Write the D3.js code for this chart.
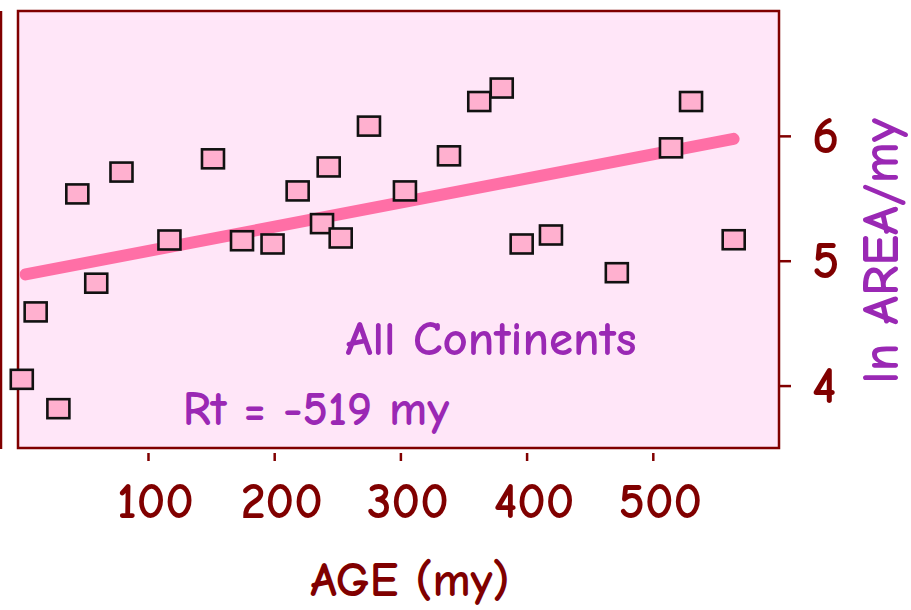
<!DOCTYPE html>
<html><head><meta charset="utf-8">
<script src="https://cdn.jsdelivr.net/npm/d3@7"></script>
<style>
html,body{margin:0;padding:0;background:#fff;}
svg{display:block;}
text{font-family:"Comic Sans MS","Comic Neue","Noto Sans",sans-serif;font-weight:700;}
</style></head>
<body>
<script>
// Data
const ages   = [0, 11, 29, 44, 59, 79, 117, 151.5, 174.5, 198.7, 218.6, 237.9, 243.2, 252.7, 275.1, 303.6, 338.5, 362.5, 380.3, 396.1, 419.3, 471.5, 514.4, 530.3, 564.1];
const lnArea = [4.05, 4.59, 3.815, 5.535, 4.82, 5.71, 5.166, 5.816, 5.16, 5.134, 5.559, 5.297, 5.751, 5.182, 6.078, 5.559, 5.84, 6.275, 6.383, 5.134, 5.206, 4.904, 5.904, 6.275, 5.168];
const fitAges = [3, 564];
const fitVals = [4.89, 5.976];
const xTicks = [100, 200, 300, 400, 500];
const yTicks = [4, 5, 6];
const xTitle = "AGE (my)";
const yTitle = "ln AREA/my";
const panelTitle = "All Continents";
const rtLabel = "Rt = -519 my";

const W = 911, H = 610;
const dark = "#800000", purple = "#9a28b4";
const svg = d3.select("body").append("svg").attr("width", W).attr("height", H);

const x = d3.scaleLinear().domain([-3, 600]).range([18, 779]);
const y = d3.scaleLinear().domain([3.5, 7.0]).range([448, 11]);

// partial neighbouring panel edge
svg.append("line").attr("x1", 1).attr("x2", 1).attr("y1", 11).attr("y2", 449)
  .attr("stroke", dark).attr("stroke-width", 2.5);

// plot background + frame
svg.append("rect").attr("x", 18).attr("y", 11).attr("width", 761).attr("height", 437)
  .attr("fill", "#ffe6f8").attr("stroke", dark).attr("stroke-width", 2.5);

// fit line
svg.append("line")
  .attr("x1", x(fitAges[0])).attr("y1", y(fitVals[0]))
  .attr("x2", x(fitAges[1])).attr("y2", y(fitVals[1]))
  .attr("stroke", "#ff6fa6").attr("stroke-width", 12).attr("stroke-linecap", "round");

// points
const pts = ages.map((a, i) => ({a, v: lnArea[i]}));
svg.append("g").selectAll("rect").data(pts).join("rect")
  .attr("x", d => x(d.a) - 11).attr("y", d => y(d.v) - 9.5)
  .attr("width", 22).attr("height", 19)
  .attr("fill", "#ffb0cf").attr("stroke", "#111").attr("stroke-width", 2.6);

// x axis (offset below frame)
const xAxis = d3.axisBottom(x).tickValues(xTicks).tickFormat(d3.format("d")).tickSize(8).tickPadding(21);
const gx = svg.append("g").attr("transform", "translate(0,453)").call(xAxis);
gx.select(".domain").remove();
gx.selectAll(".tick line").attr("stroke", dark).attr("stroke-width", 2.5);
gx.selectAll(".tick text").attr("fill", dark).attr("font-size", 50).attr("dx", 7);

// y axis on right
const yAxis = d3.axisRight(y).tickValues(yTicks).tickFormat(d3.format("d")).tickSize(12).tickPadding(21);
const gy = svg.append("g").attr("transform", "translate(779,0)").call(yAxis);
gy.select(".domain").remove();
gy.selectAll(".tick line").attr("stroke", dark).attr("stroke-width", 2.5);
gy.selectAll(".tick text").attr("fill", dark).attr("font-size", 52);

// titles
svg.append("text").attr("x", 410).attr("y", 596).attr("text-anchor", "middle")
  .attr("fill", dark).attr("font-size", 48).text(xTitle);
svg.append("text").attr("transform", "translate(898,251) rotate(-90)").attr("text-anchor", "middle")
  .attr("fill", purple).attr("font-size", 52).text(yTitle);

svg.append("text").attr("x", 491).attr("y", 355).attr("text-anchor", "middle")
  .attr("fill", purple).attr("font-size", 49).text(panelTitle);
svg.append("text").attr("x", 316).attr("y", 425).attr("text-anchor", "middle")
  .attr("fill", purple).attr("font-size", 48).text(rtLabel);
</script>
</body></html>
